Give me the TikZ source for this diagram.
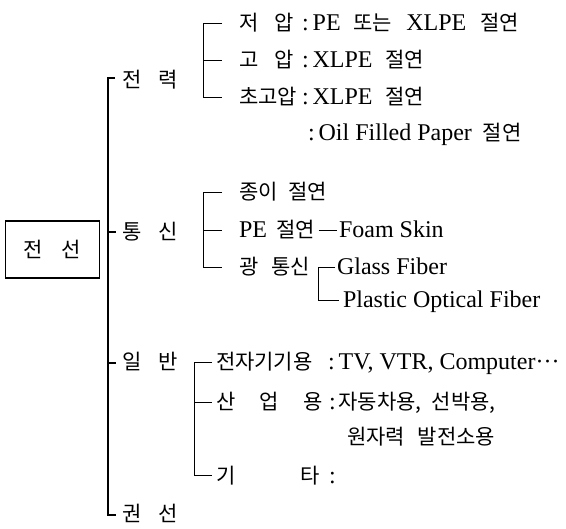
\documentclass[tikz,border=0pt]{standalone}
\usepackage{fontspec}
\setmainfont{Liberation Serif}
\newfontfamily\krfam{Noto Sans CJK KR}
\newcommand\krtext{\krfam\fontsize{21}{25}\selectfont}
\newcommand\la[1]{{\rmfamily\fontsize{24}{28}\selectfont #1}}
\newcommand\gap[1]{\hspace{#1pt}}
\begin{document}
\begin{tikzpicture}[x=1pt,y=-1pt,
  lbl/.style={inner sep=0pt, outer sep=0pt, anchor=base west, font=\krtext},
  trunk/.style={line width=1.5pt},
  brk/.style={line width=0.8pt},
  rootbox/.style={draw, line width=1.5pt, inner sep=0pt, minimum width=94pt, minimum height=57pt, font=\krtext}]
\useasboundingbox (0,0) rectangle (566,529);
% root
\node[rootbox] (root) at (52.5,249.5) {전\gap{19}선};
% level 1
\node[lbl] (power) at (122,88) {전\gap{17}력};
\node[lbl] (comm)  at (122,240) {통\gap{17}신};
\node[lbl] (gen)   at (122,370) {일\gap{17}반};
\node[lbl] (wind)  at (122,522) {권\gap{17}선};
\coordinate (tp) at (115,78);
\coordinate (tc) at (116,232);
\coordinate (tg) at (116,363);
\coordinate (tw) at (116,515);
\draw[trunk] (tp) -- (tp -| 108,0) -- (tw -| 108,0) -- (tw);
\draw[trunk] (tc -| 108,0) -- (tc);
\draw[trunk] (tg -| 108,0) -- (tg);
% power sub
\node[lbl] (lo)  at (239,31) {저\gap{16}압};
\node[lbl] (hi)  at (239,68) {고\gap{16}압};
\node[lbl] (ehv) at (239,105) {초고압};
\node[lbl] (loc)  at (302,31) {\la{:\,PE}\gap{13}또는\gap{14}\la{XLPE}\gap{14}절연};
\node[lbl] (hic)  at (302,68) {\la{:\,XLPE}\gap{13}절연};
\node[lbl] (ehvc) at (302,105) {\la{:\,XLPE}\gap{13}절연};
\node[lbl] (oil)  at (308,141) {\la{:\,Oil Filled Paper}\gap{11}절연};
\coordinate (b1a) at (222,23);
\coordinate (b1b) at (222,60);
\coordinate (b1c) at (222,97);
\draw[brk] (b1a) -- (b1a -| 203,0) -- (b1c -| 203,0) -- (b1c);
\draw[brk] (b1b -| 203,0) -- (b1b);
% comm sub
\node[lbl] (paper) at (239,200) {종이\gap{11}절연};
\node[lbl] (pe)    at (239,238) {\la{PE}\gap{9}절연};
\node[lbl] (foam)  at (339,238) {\la{Foam Skin}};
\node[lbl] (opt)   at (239,275) {광\gap{13}통신};
\node[lbl] (glass) at (337,275) {\la{Glass Fiber}};
\node[lbl] (pof)   at (343,308) {\la{Plastic Optical Fiber}};
\coordinate (b2a) at (222,192);
\coordinate (b2b) at (222,230);
\coordinate (b2c) at (222,267);
\draw[brk] (b2a) -- (b2a -| 203,0) -- (b2c -| 203,0) -- (b2c);
\draw[brk] (b2b -| 203,0) -- (b2b);
\draw[brk] ([xshift=4pt]pe.east |- 0,230) -- ([xshift=-2pt]foam.west |- 0,230);
\draw[brk] ([xshift=-2pt]glass.west |- 0,267) -- (318,267) -- (318,300) -- ([xshift=-4pt]pof.west |- 0,300);
% general sub
\node[lbl] (elec) at (216,370) {전자기기용};
\node[lbl] (elecc) at (328,370) {\la{:\,TV, VTR, Computer\textperiodcentered\textperiodcentered\textperiodcentered}};
\node[lbl] (ind) at (216,410) {산\gap{24}업\gap{25}용};
\node[lbl] (indc) at (329,410) {\la{:}\gap{3}자동차용,\gap{10}선박용,};
\node[lbl] (nuc) at (347,445) {원자력\gap{13}발전소용};
\node[lbl] (etc) at (216,484) {기\gap{65}타};
\node[lbl] (etcc) at (329,484) {\la{:}};
\coordinate (b3a) at (212,362);
\coordinate (b3b) at (212,402);
\coordinate (b3c) at (212,475);
\draw[brk] (b3a) -- (b3a -| 194,0) -- (b3c -| 194,0) -- (b3c);
\draw[brk] (b3b -| 194,0) -- (b3b);
\end{tikzpicture}
\end{document}
